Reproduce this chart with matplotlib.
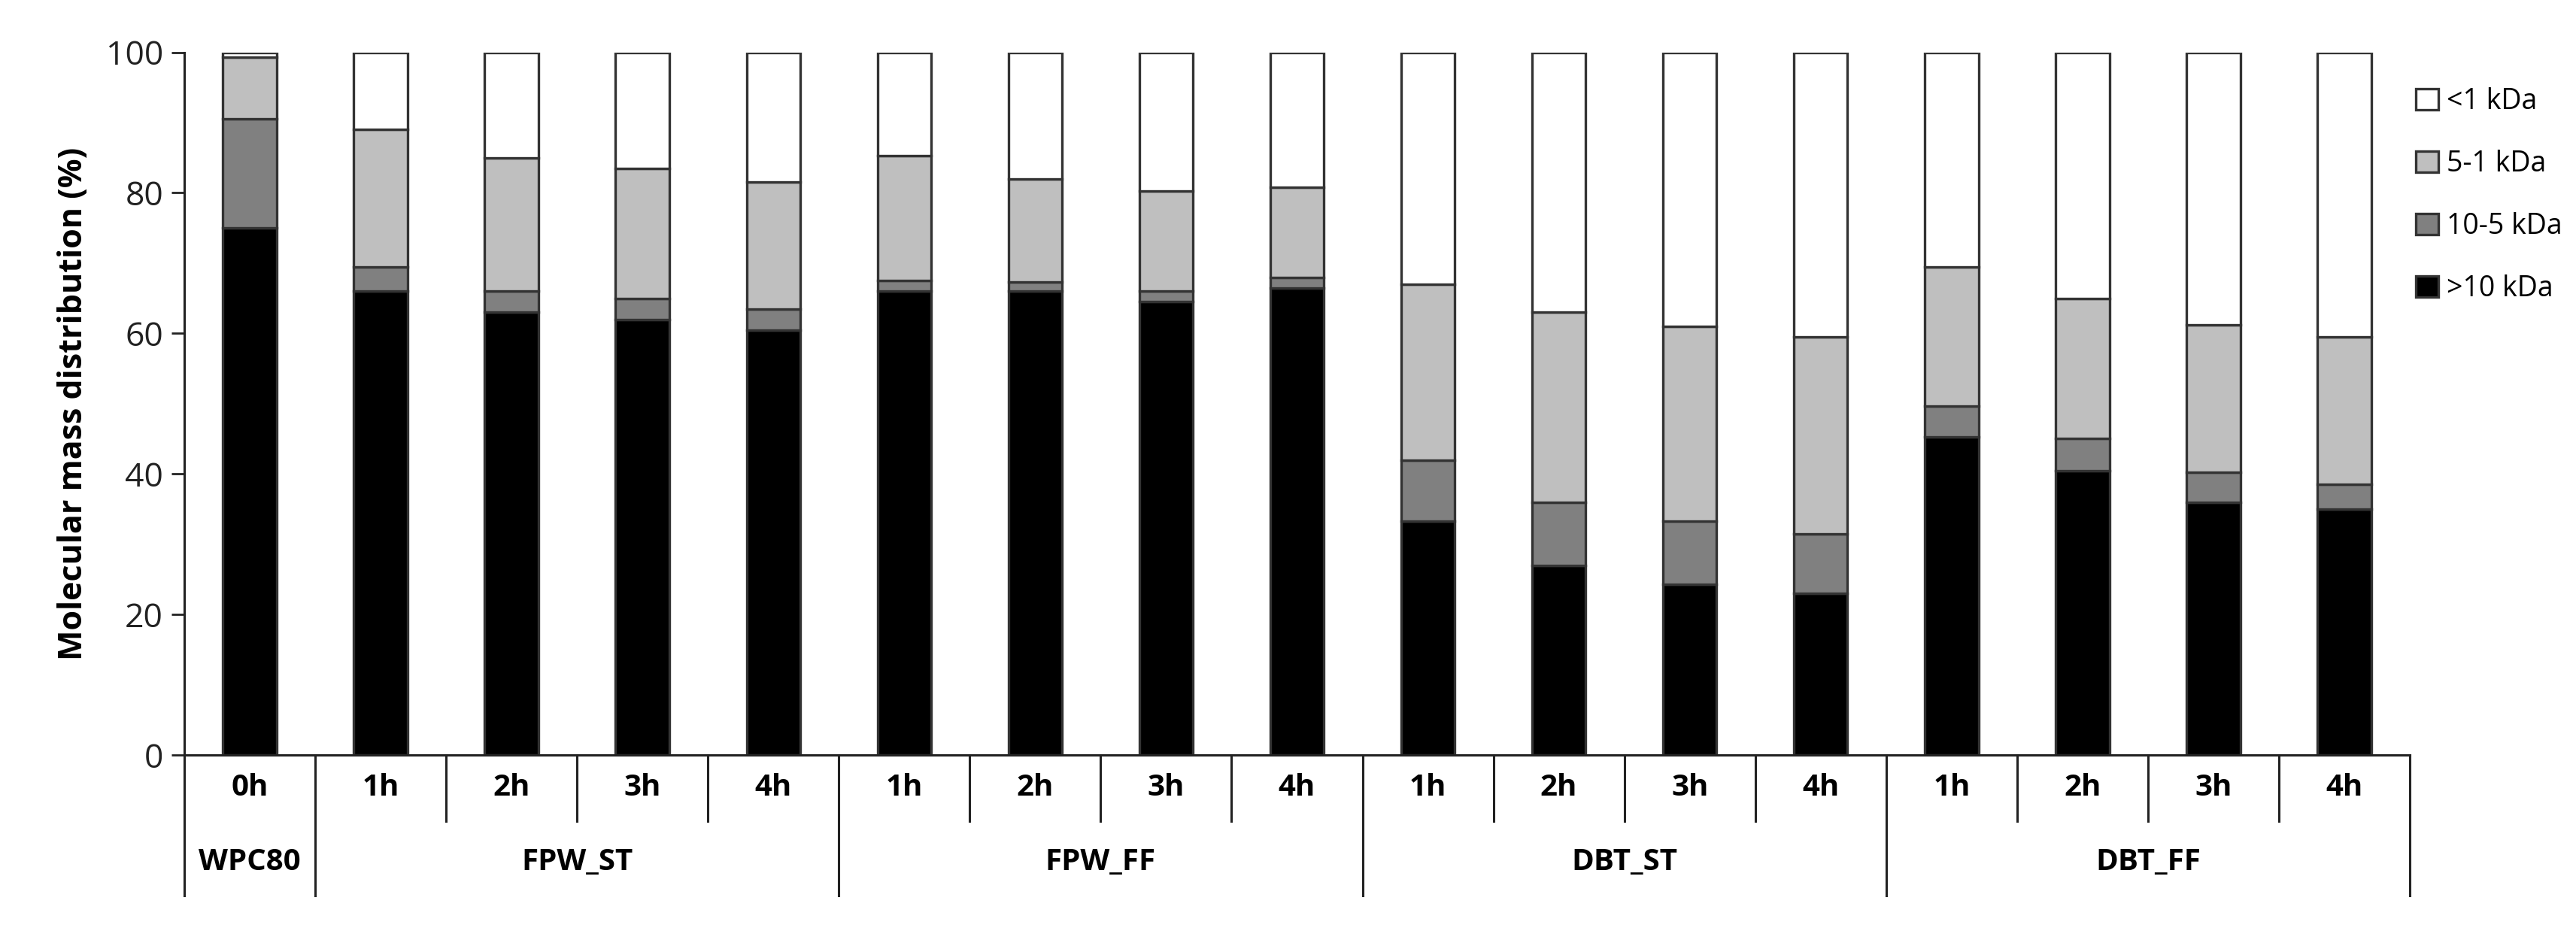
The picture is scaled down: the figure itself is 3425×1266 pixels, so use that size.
import numpy as np
import matplotlib
matplotlib.use('Agg')
import matplotlib.pyplot as plt

plt.rcParams['font.family'] = ['Open Sans', 'DejaVu Sans']

hours = ['0h', '1h', '2h', '3h', '4h', '1h', '2h', '3h', '4h',
         '1h', '2h', '3h', '4h', '1h', '2h', '3h', '4h']
groups = ['WPC80', 'FPW_ST', 'FPW_FF', 'DBT_ST', 'DBT_FF']
group_sizes = [1, 4, 4, 4, 4]

gt10 = [75.0, 66.0, 63.0, 62.0, 60.5, 66.0, 66.0, 64.5, 66.5,
        33.3, 27.0, 24.3, 23.0, 45.3, 40.5, 36.0, 35.0]
k10_5 = [15.5, 3.5, 3.0, 3.0, 3.0, 1.5, 1.3, 1.5, 1.5,
         8.7, 9.0, 9.0, 8.5, 4.4, 4.5, 4.2, 3.5]
k5_1 = [8.8, 19.5, 19.0, 18.5, 18.0, 17.8, 14.7, 14.3, 12.8,
        25.0, 27.0, 27.7, 28.0, 19.8, 20.0, 21.0, 21.0]
lt1 = [0.7, 11.0, 15.0, 16.5, 18.5, 14.7, 18.0, 19.7, 19.2,
       33.0, 37.0, 39.0, 40.5, 30.5, 35.0, 38.8, 40.5]

series = [(gt10, '#000000', '>10 kDa'), (k10_5, '#808080', '10-5 kDa'),
          (k5_1, '#bfbfbf', '5-1 kDa'), (lt1, '#ffffff', '<1 kDa')]

fig = plt.figure(figsize=(34.25, 12.66), dpi=100)
ax = fig.add_axes([0.0715, 0.207, 0.864, 0.738])

x = np.arange(len(hours))
bottom = np.zeros(len(hours))
handles = []
for vals, col, lab in series:
    b = ax.bar(x, vals, 0.41, bottom=bottom, color=col, edgecolor='#333333',
               linewidth=2.4, label=lab)
    handles.append(b)
    bottom += np.array(vals)

ax.set_xlim(-0.5, len(hours) - 0.5)
ax.set_ylim(0, 100)
ax.set_yticks(range(0, 101, 20))
ax.tick_params(axis='y', labelsize=32, length=12, width=2, direction='out',
               colors='#222222', pad=8)
ax.set_xticks([])
for s in ['top', 'right']:
    ax.spines[s].set_visible(False)
for s in ['left', 'bottom']:
    ax.spines[s].set_linewidth(2.2)
    ax.spines[s].set_color('#222222')
ax.set_ylabel('Molecular mass distribution (%)', fontsize=31, fontweight='bold',
              labelpad=16)

trans = ax.get_xaxis_transform()
for i, h in enumerate(hours):
    ax.text(i, -0.047, h, transform=trans, ha='center', va='center',
            fontsize=29, fontweight='bold')

# separators between categories and group labels
edges = np.cumsum([0] + group_sizes) - 0.5
group_edges = set(edges.tolist())
for e in np.arange(-0.5, len(hours)):
    low = -0.2 if e in group_edges else -0.094
    ax.plot([e, e], [0, low], transform=trans, color='#222222', lw=2.2,
            clip_on=False)
for g, lo, hi in zip(groups, edges[:-1], edges[1:]):
    ax.text((lo + hi) / 2, -0.153, g, transform=trans, ha='center', va='center',
            fontsize=29, fontweight='bold')

fig.legend(handles[::-1], [s[2] for s in series][::-1], loc='upper left',
           bbox_to_anchor=(0.928, 0.935), frameon=False, fontsize=27,
           handlelength=0.8, handleheight=0.8, labelspacing=1.2,
           handletextpad=0.3)

fig.savefig('out.png')
